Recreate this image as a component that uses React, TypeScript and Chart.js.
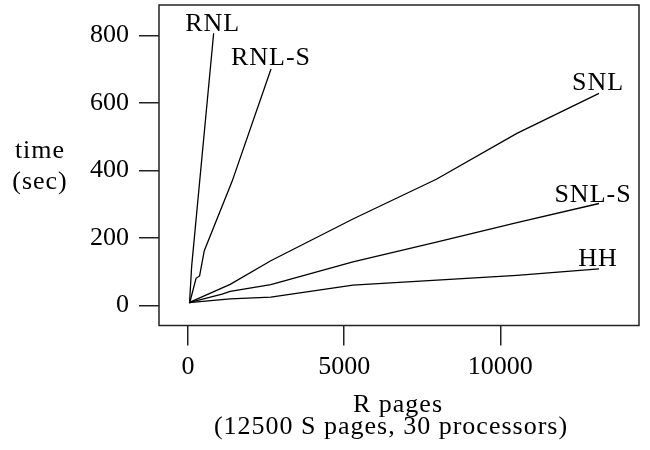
import React, { useEffect, useRef } from "react";
import { Chart, registerables } from "chart.js";

Chart.register(...registerables);

const seriesNames = ["RNL", "RNL-S", "SNL", "SNL-S", "HH"];

const rnlX = [50, 115, 820];
const rnlY = [11, 115, 807];

const rnlsX = [50, 256, 370, 520, 1408, 2657];
const rnlsY = [6, 80, 87, 162, 367, 701];

const snlX = [30, 1350, 2650, 5280, 7950, 10530, 13160];
const snlY = [8, 62, 132, 256, 374, 510, 629];

const snlsX = [30, 1090, 1350, 2650, 5280, 7920, 10530, 13160];
const snlsY = [8, 33, 41, 61, 129, 187, 245, 302];

const hhX = [30, 1350, 2650, 5280, 10530, 13160];
const hhY = [8, 19, 24, 60, 89, 108];

const xTicks = [0, 5000, 10000];
const yTicks = [0, 200, 400, 600, 800];

const xTitle = ["R pages", "(12500 S pages, 30 processors)"];
const yTitle = ["time", "(sec)"];

const labelOffsets = [
  [-1, -2],
  [0, -4],
  [-1, -3],
  [-6, -2],
  [-1, -3],
];

const FONT = "'Liberation Serif', 'DejaVu Serif', serif";

function pts(xs: number[], ys: number[]) {
  return xs.map((x, i) => ({ x, y: ys[i] }));
}

export default function App() {
  const ref = useRef<HTMLCanvasElement | null>(null);

  useEffect(() => {
    document.body.style.margin = "0";
    const canvas = ref.current;
    if (!canvas) return;
    const allData = [
      pts(rnlX, rnlY),
      pts(rnlsX, rnlsY),
      pts(snlX, snlY),
      pts(snlsX, snlsY),
      pts(hhX, hhY),
    ];

    const decor = {
      id: "decor",
      afterDraw(chart: any) {
        const ctx = chart.ctx;
        const a = chart.chartArea;
        ctx.save();
        ctx.strokeStyle = "#222";
        ctx.lineWidth = 1.5;
        ctx.strokeRect(a.left, a.top, a.right - a.left, a.bottom - a.top);

        ctx.fillStyle = "#000";
        ctx.font = `26px ${FONT}`;
        (ctx as any).letterSpacing = "1px";
        ctx.textAlign = "center";
        ctx.textBaseline = "alphabetic";
        chart.data.datasets.forEach((ds: any, i: number) => {
          const meta = chart.getDatasetMeta(i);
          const last = meta.data[meta.data.length - 1];
          const [dx, dy] = labelOffsets[i];
          ctx.fillText(seriesNames[i], last.x + dx, last.y + dy);
        });

        // axis titles
        ctx.fillText(yTitle[0], 40, 158);
        ctx.fillText(yTitle[1], 40, 189);
        ctx.fillText(xTitle[0], 398, 412);
        ctx.fillText(xTitle[1], 391, 434);
        ctx.restore();
      },
    };

    const chart = new Chart(canvas, {
      type: "scatter",
      data: {
        datasets: allData.map((d, i) => ({
          label: seriesNames[i],
          data: d,
          showLine: true,
          borderColor: "#000",
          borderWidth: 1.3,
          pointRadius: 0,
          pointHoverRadius: 0,
          tension: 0,
          fill: false,
        })),
      },
      options: {
        animation: false,
        responsive: false,
        maintainAspectRatio: false,
        events: [],
        layout: { padding: { top: 5, right: 11, left: 0, bottom: 0 }, autoPadding: false },
        plugins: {
          legend: { display: false },
          tooltip: { enabled: false },
          title: { display: false },
        },
        scales: {
          x: {
            type: "linear",
            min: -930,
            max: 14440,
            afterBuildTicks: (s: any) => {
              s.ticks = xTicks.map((v) => ({ value: v }));
            },
            afterFit: (s: any) => {
              s.height = 124.5;
              s.paddingLeft = 0;
              s.paddingRight = 0;
              s.paddingTop = 0;
              s.paddingBottom = 0;
            },
            border: { display: false },
            grid: {
              display: true,
              drawOnChartArea: false,
              drawTicks: true,
              tickLength: 20,
              color: "#222",
              lineWidth: 1.5,
            },
            ticks: {
              color: "#000",
              font: { family: FONT, size: 26 },
              padding: 6,
              maxRotation: 0,
              autoSkip: false,
              callback: (v: any) => String(v),
            },
          },
          y: {
            type: "linear",
            min: -60,
            max: 891,
            afterBuildTicks: (s: any) => {
              s.ticks = yTicks.map((v) => ({ value: v }));
            },
            afterFit: (s: any) => {
              s.width = 159;
              s.paddingLeft = 0;
              s.paddingRight = 0;
              s.paddingTop = 0;
              s.paddingBottom = 0;
            },
            border: { display: false },
            grid: {
              display: true,
              drawOnChartArea: false,
              drawTicks: true,
              tickLength: 20,
              color: "#222",
              lineWidth: 1.5,
            },
            ticks: {
              color: "#000",
              font: { family: FONT, size: 26 },
              padding: 10,
              autoSkip: false,
              callback: (v: any) => String(v),
            },
          },
        },
      },
      plugins: [decor],
    });
    return () => chart.destroy();
  }, []);

  return (
    <div style={{ width: 650, height: 450, position: "relative", background: "#fff" }}>
      <canvas ref={ref} width={650} height={450} style={{ width: 650, height: 450 }} />
    </div>
  );
}
